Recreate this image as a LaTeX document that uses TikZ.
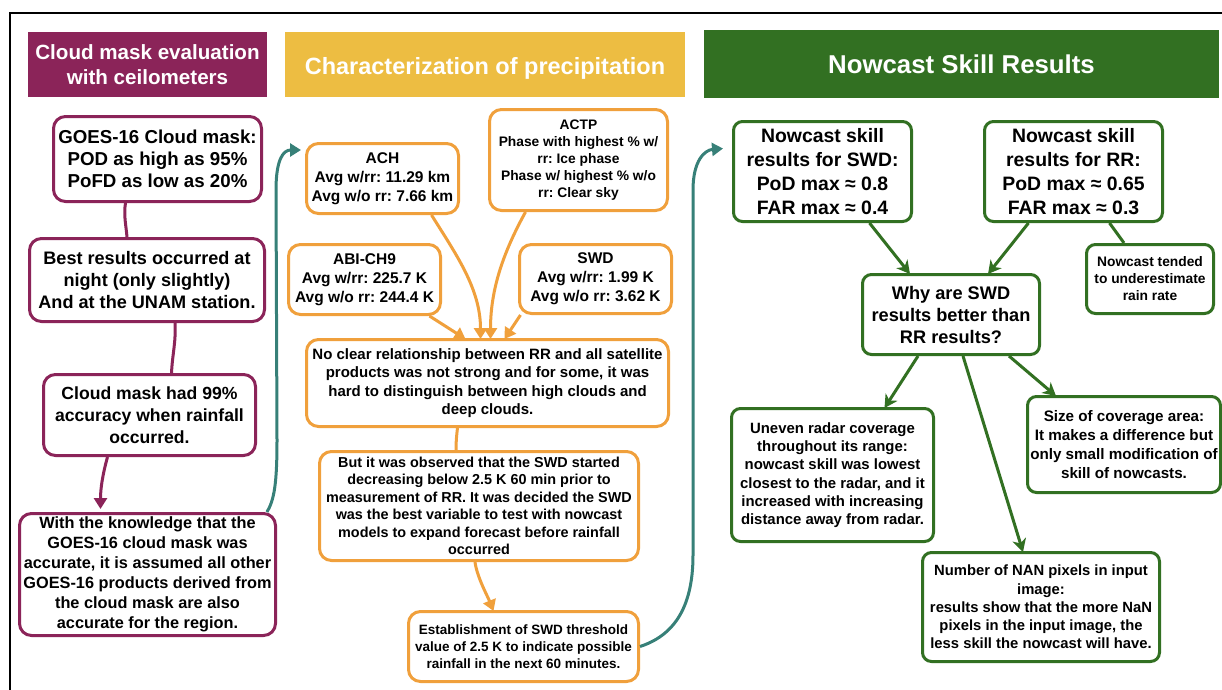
\documentclass[tikz,border=0pt]{standalone}
\usepackage{fontspec}
\setmainfont{Liberation Sans}
\usetikzlibrary{arrows.meta,calc}
\frenchspacing

\definecolor{plum}{RGB}{139,36,89}
\definecolor{gold}{RGB}{237,189,66}
\definecolor{amber}{RGB}{240,160,60}
\definecolor{leaf}{RGB}{50,112,34}
\definecolor{seateal}{RGB}{55,128,120}

% bold text at a given size and line spacing
\newcommand{\fsz}[2]{\fontsize{#1}{#2}\selectfont\bfseries}

\tikzset{
  box/.style={draw, line width=3pt, rounded corners=12pt, fill=white,
              align=center, inner sep=0pt},
  pbox/.style={box, draw=plum},
  obox/.style={box, draw=amber},
  gbox/.style={box, draw=leaf, rounded corners=9pt},
  header/.style={inner sep=0pt, align=center, text=white},
  plink/.style={line width=3pt, draw=plum},
  olink/.style={line width=3pt, draw=amber},
  glink/.style={line width=3pt, draw=leaf},
  parr/.style={plink, -{Triangle[length=11pt,width=13pt]}},
  oarr/.style={olink, -{Triangle[length=11pt,width=13pt]}},
  garr/.style={glink, -{Stealth[length=13pt,width=14pt,inset=4pt]}},
  tarr/.style={line width=3pt, draw=seateal, -{Triangle[length=11pt,width=13pt]}},
}

\begin{document}
\begin{tikzpicture}[x=1pt,y=-1pt]
\clip (0,0) rectangle (1222,689);
\fill[white] (0,0) rectangle (1222,689);

% outer frame (only its top and left sides fall inside the page)
\draw[line width=2pt] (10,720) -- (10,13) -- (1260,13);

% column headers
\node[header, fill=plum, minimum width=239pt, minimum height=65pt,
      font=\fsz{20.6}{25}] (h1) at (147.5,64.5) {Cloud mask evaluation\\with ceilometers};
\node[header, fill=gold, minimum width=400pt, minimum height=65pt, text height=24pt,
      font=\fsz{23.5}{28}] (h2) at (485,64.5) {Characterization of precipitation};
\node[header, fill=leaf, minimum width=515pt, minimum height=68pt,
      font=\fsz{25.8}{30}] (h3) at (961.5,64) {Nowcast Skill Results};

% ---- cloud mask column ----
\node[pbox, minimum width=208pt, minimum height=85pt, font=\fsz{18.7}{22}]
  (goes) at (157.5,159) {GOES-16 Cloud mask:\\POD as high as 95\%\\PoFD as low as 20\%};
\node[pbox, minimum width=235pt, minimum height=83pt, font=\fsz{18.1}{22}]
  (best) at (147,280) {Best results occurred at\\night (only slightly)\\And at the UNAM station.};
\node[pbox, minimum width=212pt, minimum height=81pt, font=\fsz{17.6}{21.7}]
  (cm99) at (149.5,415) {Cloud mask had 99\%\\accuracy when rainfall\\occurred.};
\node[pbox, minimum width=256pt, minimum height=122pt, font=\fsz{16.3}{20}]
  (know) at (147.5,574.5) {With the knowledge that the\\GOES-16 cloud mask was\\accurate, it is assumed all other\\GOES-16 products derived from\\the cloud mask are also\\accurate for the region.};

\draw[plink] ([xshift=-32pt]goes.south) .. controls +(-2,12) and +(-1,-12) .. ([xshift=-20pt]best.north);
\draw[plink] ([xshift=28pt]best.south) .. controls +(1,20) and +(1,-20) .. ([xshift=22pt]cm99.north);
\draw[parr] ([xshift=-42pt]cm99.south) .. controls +(-5,18) and +(0,-20) .. ([xshift=-47pt,yshift=3pt]know.north);

% ---- precipitation column ----
\node[obox, minimum width=152pt, minimum height=70pt, font=\fsz{15.5}{19}]
  (ach) at (382.5,178.5) {ACH\\Avg w/rr: 11.29 km\\Avg w/o rr: 7.66 km};
\node[obox, minimum width=178pt, minimum height=101pt, font=\fsz{13.8}{17}]
  (actp) at (578.5,160) {ACTP\\Phase with highest \% w/\\rr: Ice phase\\Phase w/ highest \% w/o\\rr: Clear sky};
\node[obox, minimum width=152pt, minimum height=70pt, font=\fsz{15.5}{19}]
  (abi) at (364.5,279.5) {ABI-CH9\\Avg w/rr: 225.7 K\\Avg w/o rr: 244.4 K};
\node[obox, minimum width=152pt, minimum height=69pt, font=\fsz{15.5}{19}]
  (swd) at (595.5,279) {SWD\\Avg w/rr: 1.99 K\\Avg w/o rr: 3.62 K};
\node[obox, minimum width=362pt, minimum height=87pt, font=\fsz{15}{18.3}]
  (noclear) at (487.5,383) {No clear relationship between RR and all satellite\\products was not strong and for some, it was\\hard to distinguish between high clouds and\\deep clouds.};
\node[obox, minimum width=319pt, minimum height=109pt, font=\fsz{14.4}{17.5}]
  (but) at (479,506) {But it was observed that the SWD started\\decreasing below 2.5 K 60 min prior to\\measurement of RR. It was decided the SWD\\was the best variable to test with nowcast\\models to expand forecast before rainfall\\occurred};
\node[obox, minimum width=230pt, minimum height=70pt, font=\fsz{13.5}{16.7}]
  (estab) at (523.5,646.5) {Establishment of SWD threshold\\value of 2.5 K to indicate possible\\rainfall in the next 60 minutes.};

\draw[oarr] ([xshift=65pt]abi.south) -- ([xshift=-22pt,yshift=-1pt]noclear.north);
\draw[oarr] ([xshift=49pt]ach.south) .. controls +(25,40) and +(0,-50) .. ([xshift=-7pt,yshift=-1pt]noclear.north);
\draw[oarr] ([xshift=-53pt]actp.south) .. controls +(-22,40) and +(0,-50) .. ([xshift=3pt,yshift=-1pt]noclear.north);
\draw[oarr] ([xshift=-75pt]swd.south) -- ([xshift=17pt,yshift=-1pt]noclear.north);
\draw[olink] ([xshift=-30pt]noclear.south) .. controls +(-1,8) and +(0,-8) .. ([xshift=-23pt]but.north);
\draw[oarr] ([xshift=-4pt]but.south) .. controls +(2,15) and +(-6,-15) .. ([xshift=-30pt,yshift=-1pt]estab.north);

% ---- nowcast column ----
\node[gbox, minimum width=178pt, minimum height=100pt, font=\fsz{19.4}{24}]
  (nswd) at (822.5,171.5) {Nowcast skill\\results for SWD:\\PoD max ≈ 0.8\\FAR max ≈ 0.4};
\node[gbox, minimum width=178pt, minimum height=100pt, font=\fsz{19.4}{24}]
  (nrr) at (1073.5,171.5) {Nowcast skill\\results for RR:\\PoD max ≈ 0.65\\FAR max ≈ 0.3};
\node[gbox, minimum width=127pt, minimum height=69pt, font=\fsz{13.8}{17}]
  (tended) at (1150,279) {Nowcast tended\\to underestimate\\rain rate};
\node[gbox, minimum width=177pt, minimum height=80pt, font=\fsz{18.2}{22}]
  (why) at (951,314.5) {Why are SWD\\results better than\\RR results?};
\node[gbox, minimum width=202pt, minimum height=133pt, font=\fsz{14.9}{18.3}]
  (uneven) at (832.5,475) {Uneven radar coverage\\throughout its range:\\nowcast skill was lowest\\closest to the radar, and it\\increased with increasing\\distance away from radar.};
\node[gbox, minimum width=193pt, minimum height=96pt, font=\fsz{15.2}{19}]
  (size) at (1124,444.5) {Size of coverage area:\\It makes a difference but\\only small modification of\\skill of nowcasts.};
\node[gbox, minimum width=237pt, minimum height=109pt, font=\fsz{14.8}{18.3}]
  (nan) at (1041,607) {Number of NAN pixels in input\\image:\\results show that the more NaN\\pixels in the input image, the\\less skill the nowcast will have.};

\draw[garr] ([xshift=47pt]nswd.south) -- ([xshift=-41pt,yshift=-1pt]why.north);
\draw[garr] ([xshift=-45pt]nrr.south) -- ([xshift=37pt,yshift=-1pt]why.north);
\draw[glink] ([xshift=36pt]nrr.south) -- ([xshift=-26pt]tended.north);
\draw[garr] ([xshift=-33pt]why.south) -- ([xshift=52pt,yshift=-1pt]uneven.north);
\draw[garr] ([xshift=12pt]why.south) -- ([xshift=-18pt,yshift=-1pt]nan.north);
\draw[garr] ([xshift=58pt]why.south) -- ([xshift=-68pt,yshift=-1pt]size.north);

% ---- links between columns ----
\draw[tarr] ([xshift=-10pt]know.north east)
  .. controls (274,500) and (277,485) .. (277,440)
  -- (276,190)
  .. controls (276,160) and (283,150) .. ([xshift=-4pt,yshift=-8pt]ach.north west);
\draw[tarr] (estab.east)
  .. controls (672,636) and (693,610) .. (693,555)
  -- (693,190)
  .. controls (693,160) and (705,150) .. ([xshift=-9pt,yshift=23pt]nswd.west);

\end{tikzpicture}
\end{document}
